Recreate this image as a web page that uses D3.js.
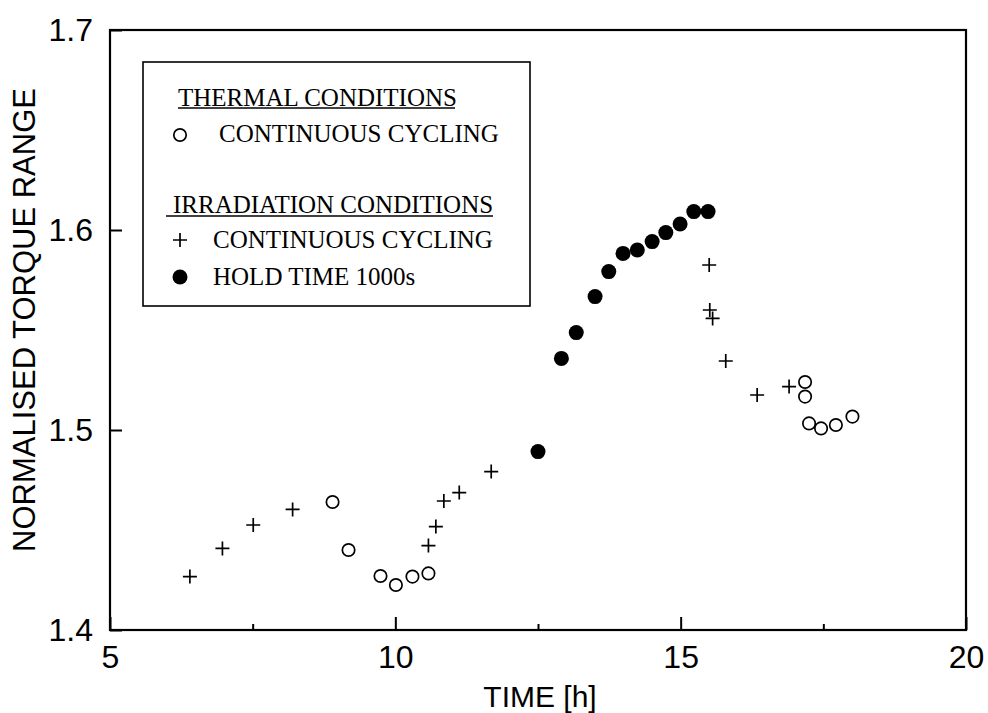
<!DOCTYPE html>
<html>
<head>
<meta charset="utf-8">
<script src="https://cdn.jsdelivr.net/npm/d3@7"></script>
<style>
  body { margin: 0; background: #fff; }
  svg { display: block; }
</style>
</head>
<body>
<div id="canvas"></div>
<script>
"use strict"

// thermal conditions, continuous cycling (open circles)
const thermalTime = [8.90, 9.18, 9.74, 10.01, 10.30, 10.58, 17.18, 17.18, 17.25, 17.46, 17.72, 18.01];
const thermalTorque = [1.464, 1.440, 1.427, 1.4225, 1.4267, 1.4283, 1.524, 1.5167, 1.5033, 1.5008, 1.5025, 1.5067];

// irradiation conditions, continuous cycling (plus signs)
const irrTime = [6.40, 6.97, 7.51, 8.20, 10.58, 10.71, 10.85, 11.12, 11.68, 15.50, 15.51, 15.56, 15.79, 16.34, 16.90];
const irrTorque = [1.4267, 1.4408, 1.4525, 1.4603, 1.4422, 1.4517, 1.4645, 1.4687, 1.4792, 1.5825, 1.560, 1.5558, 1.5345, 1.5175, 1.5217];

// irradiation conditions, hold time 1000s (filled circles)
const holdTime = [12.50, 12.91, 13.17, 13.50, 13.74, 13.99, 14.24, 14.50, 14.74, 14.99, 15.23, 15.48];
const holdTorque = [1.4892, 1.5358, 1.5487, 1.5667, 1.5792, 1.5883, 1.590, 1.5942, 1.5987, 1.603, 1.6092, 1.6092];

const xTicks = [5, 10, 15, 20];
const xMinorTicks = [7.5, 12.5, 17.5];
const yTicks = [1.4, 1.5, 1.6, 1.7];

let width = 988, height = 713;
let plotLeft = 110, plotRight = 966, plotTop = 30, plotBottom = 630;

let drawing = d3.select("#canvas")
    .append("svg")
    .attr("width", width)
    .attr("height", height);

let x = d3.scaleLinear().domain([5, 20]).range([plotLeft, plotRight]);
let y = d3.scaleLinear().domain([1.4, 1.7]).range([plotBottom, plotTop]);

const sansFont = "'Liberation Sans', Arial, sans-serif";
const serifFont = "'Liberation Serif', 'Times New Roman', serif";

// frame round the plot
drawing.append("rect")
    .attr("x", plotLeft)
    .attr("y", plotTop)
    .attr("width", plotRight - plotLeft)
    .attr("height", plotBottom - plotTop)
    .attr("fill", "none")
    .attr("stroke", "black")
    .attr("stroke-width", 2.2);

// x axis, ticks pointing inward
let xAxis = drawing.append("g")
    .attr("transform", `translate(0,${plotBottom})`)
    .call(d3.axisBottom(x).tickValues(xTicks).tickSize(-13).tickPadding(15).tickFormat(d3.format("d")));

let xMinor = drawing.append("g")
    .attr("transform", `translate(0,${plotBottom})`)
    .call(d3.axisBottom(x).tickValues(xMinorTicks).tickSize(-6).tickFormat(""));

// y axis
let yAxis = drawing.append("g")
    .attr("transform", `translate(${plotLeft},0)`)
    .call(d3.axisLeft(y).tickValues(yTicks).tickSize(-12).tickPadding(17).tickFormat(d3.format(".1f")));

[xAxis, xMinor, yAxis].forEach(function (g) {
    g.select(".domain").remove();
    g.selectAll("line").attr("stroke", "black").attr("stroke-width", 2);
    g.selectAll("text")
        .attr("fill", "black")
        .style("font-family", sansFont)
        .style("font-size", "32px");
});

// axis titles
drawing.append("text")
    .attr("x", 540)
    .attr("y", 707)
    .attr("text-anchor", "middle")
    .style("font-family", sansFont)
    .style("font-size", "30px")
    .text("TIME [h]");

drawing.append("text")
    .attr("transform", "translate(35,320) rotate(-90)")
    .attr("text-anchor", "middle")
    .style("font-family", sansFont)
    .style("font-size", "31px")
    .text("NORMALISED TORQUE RANGE");

// markers
function openCircle(g, cx, cy) {
    g.append("circle")
        .attr("cx", cx).attr("cy", cy).attr("r", 6.2)
        .attr("fill", "white").attr("stroke", "black").attr("stroke-width", 1.7);
}

function plusSign(g, cx, cy) {
    g.append("path")
        .attr("d", `M${cx - 7},${cy}H${cx + 7}M${cx},${cy - 7}V${cy + 7}`)
        .attr("stroke", "black").attr("stroke-width", 1.7);
}

function filledCircle(g, cx, cy) {
    g.append("circle")
        .attr("cx", cx).attr("cy", cy).attr("r", 7.5)
        .attr("fill", "black");
}

let points = drawing.append("g");

irrTime.forEach(function (t, i) {
    plusSign(points, x(t), y(irrTorque[i]));
});
holdTime.forEach(function (t, i) {
    filledCircle(points, x(t), y(holdTorque[i]));
});
thermalTime.forEach(function (t, i) {
    openCircle(points, x(t), y(thermalTorque[i]));
});

// legend
let legend = drawing.append("g");

legend.append("rect")
    .attr("x", 143)
    .attr("y", 62)
    .attr("width", 387)
    .attr("height", 244)
    .attr("fill", "white")
    .attr("stroke", "black")
    .attr("stroke-width", 1.6);

function legendText(tx, ty, label) {
    return legend.append("text")
        .attr("x", tx)
        .attr("y", ty)
        .style("font-family", serifFont)
        .style("font-size", "25px")
        .text(label);
}

legendText(178, 106, "THERMAL CONDITIONS");
legend.append("line")
    .attr("x1", 178).attr("x2", 455)
    .attr("y1", 108).attr("y2", 108)
    .attr("stroke", "black").attr("stroke-width", 1.3);

openCircle(legend, 180, 135);
legendText(219, 142, "CONTINUOUS CYCLING");

legendText(173, 213, "IRRADIATION CONDITIONS");
legend.append("line")
    .attr("x1", 166).attr("x2", 493)
    .attr("y1", 216).attr("y2", 216)
    .attr("stroke", "black").attr("stroke-width", 1.3);

plusSign(legend, 180, 240);
legendText(213, 248, "CONTINUOUS CYCLING");

filledCircle(legend, 180, 277);
legendText(213, 285, "HOLD TIME 1000s");
</script>
</body>
</html>
